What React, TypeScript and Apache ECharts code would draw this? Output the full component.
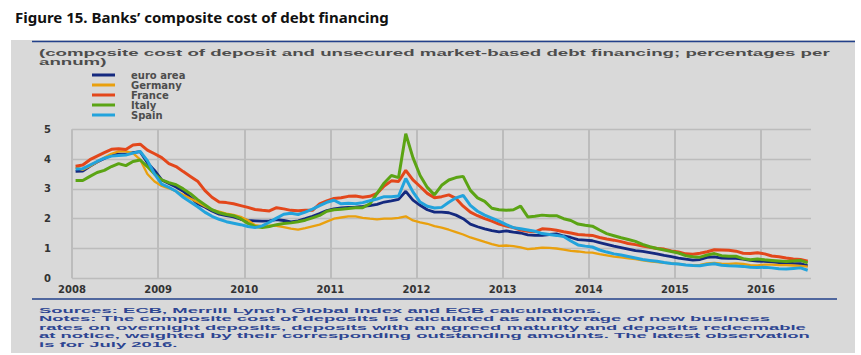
import React, { useEffect, useRef } from "react";
import * as echarts from "echarts";

const seriesNames = ["euro area", "Germany", "France", "Italy", "Spain"];
const seriesColors = ["#14297f", "#e9a00e", "#e3471b", "#5ba414", "#22a3dc"];

// Monthly observations, January 2008 to July 2016 (percentages per annum)
const euroArea = [
  3.59, 3.6, 3.76, 3.9, 4.02, 4.13, 4.17, 4.17, 4.22, 4.25, 3.88, 3.62, 3.3, 3.18, 3.06, 2.92, 2.72, 2.5, 2.39, 2.26, 2.15, 2.1, 2.06, 1.98, 1.94,
  1.93, 1.92, 1.93, 1.97, 1.94, 1.89, 1.93, 2.0, 2.08, 2.17, 2.27, 2.33, 2.36, 2.38, 2.39, 2.41, 2.44, 2.48, 2.56, 2.6, 2.65, 2.92, 2.62,
  2.45, 2.3, 2.22, 2.22, 2.2, 2.12, 2.0, 1.82, 1.73, 1.66, 1.6, 1.56, 1.59, 1.55, 1.52, 1.46, 1.44, 1.44, 1.47, 1.49, 1.42, 1.37, 1.3, 1.28, 1.26,
  1.2, 1.14, 1.08, 1.03, 0.98, 0.93, 0.9, 0.86, 0.82, 0.77, 0.73, 0.68, 0.64, 0.61, 0.63, 0.7, 0.72, 0.68, 0.67, 0.67, 0.64, 0.6, 0.58, 0.57, 0.55, 0.53, 0.52, 0.5, 0.49, 0.42,
];
const germany = [
  3.72, 3.64, 3.76, 3.9, 4.05, 4.18, 4.26, 4.26, 4.2, 3.98, 3.5, 3.25, 3.1, 3.02, 2.92, 2.8, 2.68, 2.55, 2.42, 2.3, 2.24, 2.17, 2.13, 2.06, 1.95,
  1.78, 1.75, 1.77, 1.76, 1.72, 1.67, 1.63, 1.68, 1.74, 1.8, 1.9, 2.0, 2.04, 2.08, 2.08, 2.03, 2.0, 1.98, 2.0, 2.0, 2.03, 2.08, 1.94,
  1.88, 1.83, 1.75, 1.7, 1.63, 1.55, 1.47, 1.37, 1.3, 1.22, 1.15, 1.09, 1.1, 1.08, 1.04, 0.98, 1.0, 1.03, 1.02, 1.0, 0.96, 0.92, 0.9, 0.87, 0.86,
  0.81, 0.77, 0.73, 0.7, 0.67, 0.64, 0.6, 0.57, 0.54, 0.52, 0.5, 0.48, 0.45, 0.44, 0.45, 0.5, 0.52, 0.49, 0.48, 0.5, 0.48, 0.44, 0.43, 0.46, 0.46, 0.44, 0.44, 0.43, 0.42, 0.39,
];
const france = [
  3.76, 3.8, 3.98, 4.1, 4.22, 4.33, 4.35, 4.32, 4.47, 4.5, 4.3, 4.18, 4.05, 3.85, 3.75, 3.58, 3.42, 3.26, 2.95, 2.72, 2.56, 2.54, 2.5, 2.44, 2.38,
  2.31, 2.28, 2.26, 2.37, 2.33, 2.28, 2.27, 2.28, 2.28, 2.5, 2.6, 2.68, 2.7, 2.75, 2.76, 2.72, 2.75, 2.85, 3.1, 3.27, 3.25, 3.62, 3.3,
  3.08, 2.85, 2.7, 2.74, 2.8, 2.68, 2.42, 2.22, 2.1, 2.0, 1.92, 1.82, 1.75, 1.7, 1.62, 1.58, 1.56, 1.66, 1.65, 1.61, 1.56, 1.52, 1.47, 1.45, 1.44,
  1.37, 1.32, 1.28, 1.23, 1.17, 1.13, 1.08, 1.04, 1.0, 0.98, 0.92, 0.88, 0.82, 0.81, 0.84, 0.89, 0.96, 0.95, 0.94, 0.91, 0.84, 0.83, 0.86, 0.82, 0.75, 0.72, 0.68, 0.65, 0.63, 0.57,
];
const italy = [
  3.28, 3.28, 3.42, 3.55, 3.62, 3.75, 3.85, 3.78, 3.92, 3.97, 3.75, 3.5, 3.3, 3.21, 3.14, 3.0, 2.84, 2.64, 2.47, 2.3, 2.2, 2.14, 2.1, 2.0, 1.84,
  1.74, 1.7, 1.74, 1.8, 1.84, 1.86, 1.9, 1.95, 2.03, 2.11, 2.25, 2.3, 2.32, 2.34, 2.37, 2.37, 2.5, 2.85, 3.2, 3.45, 3.38, 4.85, 4.05,
  3.45, 3.05, 2.8, 3.12, 3.3, 3.38, 3.42, 2.95, 2.7, 2.58, 2.35, 2.3, 2.28, 2.3, 2.42, 2.06, 2.08, 2.12, 2.1, 2.1, 2.0, 1.94, 1.82, 1.78, 1.75,
  1.62, 1.5, 1.43, 1.36, 1.3, 1.24, 1.14, 1.06, 1.0, 0.95, 0.9, 0.85, 0.76, 0.72, 0.71, 0.78, 0.83, 0.76, 0.74, 0.74, 0.66, 0.62, 0.65, 0.62, 0.6, 0.58, 0.56, 0.58, 0.6, 0.52,
];
const spain = [
  3.67, 3.68, 3.8, 3.92, 4.03, 4.1, 4.12, 4.14, 4.2, 4.26, 3.95, 3.5, 3.16, 3.05, 2.92, 2.72, 2.56, 2.4, 2.22, 2.08, 1.98, 1.9, 1.85, 1.8, 1.74,
  1.7, 1.76, 1.88, 2.02, 2.15, 2.18, 2.14, 2.22, 2.32, 2.44, 2.55, 2.62, 2.5, 2.52, 2.5, 2.54, 2.6, 2.66, 2.74, 2.74, 2.76, 3.35, 2.9,
  2.56, 2.42, 2.36, 2.38, 2.55, 2.7, 2.78, 2.45, 2.25, 2.12, 2.02, 1.92, 1.8, 1.7, 1.66, 1.62, 1.58, 1.5, 1.47, 1.44, 1.4, 1.25, 1.12, 1.08, 1.05,
  0.95, 0.88, 0.82, 0.78, 0.73, 0.68, 0.63, 0.6, 0.57, 0.53, 0.5, 0.48, 0.45, 0.43, 0.42, 0.46, 0.49, 0.44, 0.42, 0.41, 0.4, 0.37, 0.36, 0.37, 0.35, 0.32, 0.31, 0.33, 0.35, 0.27,
];

const startYear = 2008;
const yearTicks = [2008, 2009, 2010, 2011, 2012, 2013, 2014, 2015, 2016];
const yTicks = [0, 1, 2, 3, 4, 5];

const titleText = "Figure 15. Banks’ composite cost of debt financing";
const subtitleLines = [
  "(composite cost of deposit and unsecured market-based debt financing; percentages per",
  "annum)",
];
const noteLines = [
  "Sources: ECB, Merrill Lynch Global Index and ECB calculations.",
  "Notes: The composite cost of deposits is calculated as an average of new business",
  "rates on overnight deposits, deposits with an agreed maturity and deposits redeemable",
  "at notice, weighted by their corresponding outstanding amounts. The latest observation",
  "is for July 2016.",
];

const allSeries = [euroArea, germany, france, italy, spain];
const lineWidths = [2.8, 2.3, 3, 3, 3];

function measure(text: string, font: string): number {
  const c = document.createElement("canvas").getContext("2d");
  if (!c) return text.length * 5;
  c.font = font;
  return c.measureText(text).width;
}

export default function App() {
  const ref = useRef<HTMLDivElement>(null);

  useEffect(() => {
    if (!ref.current) return;
    const chart = echarts.init(ref.current, undefined, { renderer: "svg" });

    const family = "Liberation Sans";
    const subFont = 9;
    const subScale = 791 / measure(subtitleLines[0], `bold ${subFont}px "${family}"`);
    const noteFont = 8;
    const noteScale = 767 / measure(noteLines[2], `bold ${noteFont}px "${family}"`);

    const graphic: any[] = [
      {
        type: "rect",
        z: -100,
        silent: true,
        shape: { x: 11, y: 40, width: 844, height: 313 },
        style: { fill: "#d9d9d9" },
      },
      {
        type: "line",
        silent: true,
        shape: { x1: 32, y1: 41.5, x2: 855, y2: 41.5 },
        style: { stroke: "#22408a", lineWidth: 1.5 },
      },
      {
        type: "line",
        silent: true,
        shape: { x1: 32, y1: 299, x2: 837, y2: 299 },
        style: { stroke: "#22408a", lineWidth: 1.5 },
      },
    ];
    subtitleLines.forEach((t, k) => {
      graphic.push({
        type: "text",
        x: 39,
        y: 53 + k * 9.2,
        scaleX: subScale,
        silent: true,
        style: {
          text: t,
          fontSize: subFont,
          fontWeight: "bold",
          fontFamily: family,
          fill: "#4d4d4d",
          verticalAlign: "middle",
          align: "left",
        },
      });
    });
    noteLines.forEach((t, k) => {
      graphic.push({
        type: "text",
        x: 39,
        y: 310 + k * 8.5,
        scaleX: noteScale,
        silent: true,
        style: {
          text: t,
          fontSize: noteFont,
          fontWeight: "bold",
          fontFamily: family,
          fill: "#2d4592",
          verticalAlign: "middle",
          align: "left",
        },
      });
    });

    const option: any = {
      animation: false,
      backgroundColor: "#ffffff",
      title: {
        text: titleText,
        left: 10,
        top: 4,
        textStyle: {
          fontFamily: "Noto Sans",
          fontWeight: "bold",
          fontSize: 15,
          color: "#111111",
        },
      },
      legend: {
        orient: "vertical",
        left: 87,
        top: 65,
        itemWidth: 23,
        itemHeight: 3,
        itemGap: 0,
        icon: "rect",
        data: seriesNames,
        textStyle: {
          fontFamily: "DejaVu Sans",
          fontWeight: "bold",
          fontSize: 10,
          lineHeight: 9.7,
          color: "#4d4d4d",
          padding: [0, 0, 0, 11],
        },
      },
      grid: { left: 72, right: 50, top: 129.3, bottom: 76.7 },
      xAxis: {
        type: "value",
        min: startYear,
        max: 2016.58,
        interval: 1,
        axisLine: { show: false },
        axisTick: { show: false },
        axisLabel: {
          showMaxLabel: false,
          margin: 6,
          fontFamily: "DejaVu Sans",
          fontWeight: "bold",
          fontSize: 10,
          color: "#333333",
          formatter: (v: number) => (yearTicks.indexOf(v) >= 0 ? String(v) : ""),
        },
        splitLine: {
          show: true,
          showMaxLine: false,
          lineStyle: { color: "#bcbcbc", width: 2 },
        },
      },
      yAxis: {
        type: "value",
        min: yTicks[0],
        max: yTicks[yTicks.length - 1],
        interval: 1,
        axisLine: { show: false },
        axisTick: { show: false },
        axisLabel: {
          margin: 21,
          fontFamily: "DejaVu Sans",
          fontWeight: "bold",
          fontSize: 10,
          color: "#333333",
        },
        splitLine: { lineStyle: { color: "#bcbcbc", width: 1.3 } },
      },
      graphic,
      series: allSeries.map((vals, s) => ({
        name: seriesNames[s],
        type: "line",
        showSymbol: false,
        symbol: "none",
        color: seriesColors[s],
        lineStyle: { width: lineWidths[s], color: seriesColors[s] },
        data: vals.map((v, i) => [startYear + (i + 0.5) / 12, v]),
        z: 2 + s,
      })),
    };

    chart.setOption(option);
    return () => chart.dispose();
  }, []);

  return (
    <div
      ref={ref}
      style={{ position: "fixed", left: 0, top: 0, width: 861, height: 355 }}
    />
  );
}
